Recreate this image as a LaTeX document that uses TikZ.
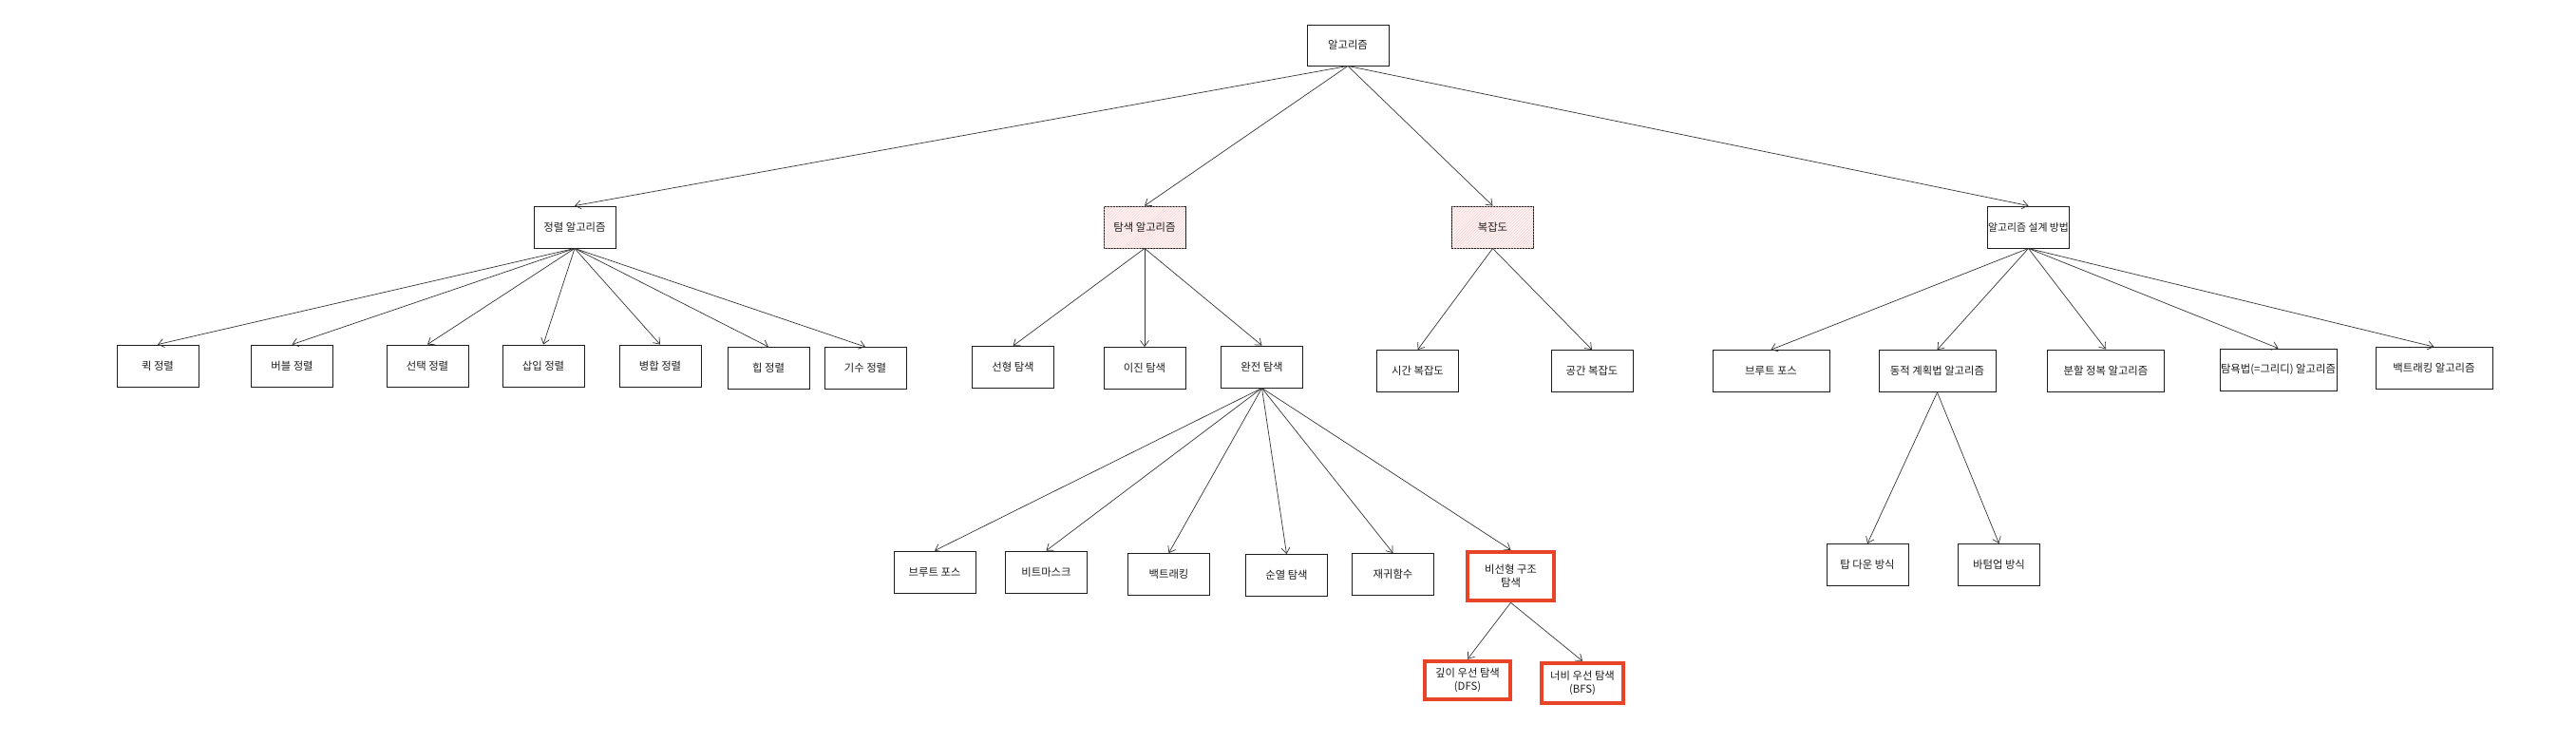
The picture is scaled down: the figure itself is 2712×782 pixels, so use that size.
\documentclass[tikz,border=0pt]{standalone}
\usepackage{fontspec}
\newfontfamily\kr{Noto Sans CJK KR}
\usetikzlibrary{arrows.meta,patterns}
\definecolor{hlred}{RGB}{232,68,40}
\definecolor{pinkfill}{RGB}{255,244,244}
\definecolor{pinkhatch}{RGB}{246,205,205}
\definecolor{ink}{RGB}{30,30,30}
\begin{document}
\begin{tikzpicture}[x=1bp,y=-1bp,
  box/.style={draw=ink, line width=0.9bp, fill=white, minimum width=86bp, minimum height=44bp, inner sep=0.5bp, align=center, font=\kr\fontsize{11.4}{14}\selectfont, text=ink},
  wide/.style={minimum width=123bp},
  snug/.style={font=\kr\fontsize{10.9}{14}\selectfont, inner xsep=0bp},
  pinkbox/.style={fill=pinkfill, postaction={pattern=north east lines, pattern color=pinkhatch}},
  hl/.style={draw=hlred, line width=4.5bp},
  conn/.style={draw=ink!90, line width=0.7bp, -{Straight Barb[length=6bp,width=9bp]}},
]
\useasboundingbox (0,0) rectangle (2712,782);
\fill[white] (0,0) rectangle (2712,782);
% level 0 and 1
\node[box, minimum height=43bp] (root) at (1419,47.5) {알고리즘};
\node[box] (sort) at (605,239) {정렬 알고리즘};
\node[box,pinkbox] (search) at (1205,239) {탐색 알고리즘};
\node[box,pinkbox] (cplx) at (1571.5,239) {복잡도};
\node[box,snug] (design) at (2135.5,239) {알고리즘 설계 방법};
% level 2
\node[box] (quick) at (166,385) {퀵 정렬};
\node[box] (bubble) at (307.5,385) {버블 정렬};
\node[box] (select) at (450,385) {선택 정렬};
\node[box] (insert) at (572,385) {삽입 정렬};
\node[box] (merge) at (695,385) {병합 정렬};
\node[box] (heap) at (809,387.5) {힙 정렬};
\node[box] (radix) at (911,387.5) {기수 정렬};
\node[box] (linear) at (1066.5,386.5) {선형 탐색};
\node[box] (binary) at (1205,387.5) {이진 탐색};
\node[box] (full) at (1328.5,386) {완전 탐색};
\node[box] (time) at (1492.5,390.5) {시간 복잡도};
\node[box] (space) at (1676,390.5) {공간 복잡도};
\node[box,wide] (brute1) at (1864.5,390.5) {브루트 포스};
\node[box,wide] (dp) at (2039.5,390.5) {동적 계획법 알고리즘};
\node[box,wide] (dc) at (2217,390) {분할 정복 알고리즘};
\node[box,wide] (greedy) at (2398.5,389) {탐욕법(=그리디) 알고리즘};
\node[box,wide] (back1) at (2562.5,387.5) {백트래킹 알고리즘};
% level 3
\node[box] (brute2) at (984,602) {브루트 포스};
\node[box] (bitmask) at (1101.5,602) {비트마스크};
\node[box] (back2) at (1230.5,604.5) {백트래킹};
\node[box] (perm) at (1354.5,605.5) {순열 탐색};
\node[box] (rec) at (1466.5,604.5) {재귀함수};
\node[box,hl,minimum width=91bp,minimum height=51bp] (nonlin) at (1590.5,606.5) {비선형 구조\\탐색};
\node[box] (topdown) at (1966,594.5) {탑 다운 방식};
\node[box] (bottomup) at (2104.5,594.5) {바텀업 방식};
% level 4
\node[box,hl,minimum width=90bp,minimum height=40bp] (dfs) at (1545,716) {깊이 우선 탐색\\(DFS)};
\node[box,hl,minimum width=86bp,minimum height=42bp] (bfs) at (1666,719) {너비 우선 탐색\\(BFS)};
% connectors
\foreach \c in {sort,search,cplx,design} \draw[conn] (root.south) -- (\c.north);
\foreach \c in {quick,bubble,select,insert,merge,heap,radix} \draw[conn] (sort.south) -- (\c.north);
\foreach \c in {linear,binary,full} \draw[conn] (search.south) -- (\c.north);
\foreach \c in {time,space} \draw[conn] (cplx.south) -- (\c.north);
\foreach \c in {brute1,dp,dc,greedy,back1} \draw[conn] (design.south) -- (\c.north);
\foreach \c in {brute2,bitmask,back2,perm,rec,nonlin} \draw[conn] (full.south) -- (\c.north);
\foreach \c in {topdown,bottomup} \draw[conn] (dp.south) -- (\c.north);
\foreach \c in {dfs,bfs} \draw[conn] (nonlin.south) -- (\c.north);
\end{tikzpicture}
\end{document}
